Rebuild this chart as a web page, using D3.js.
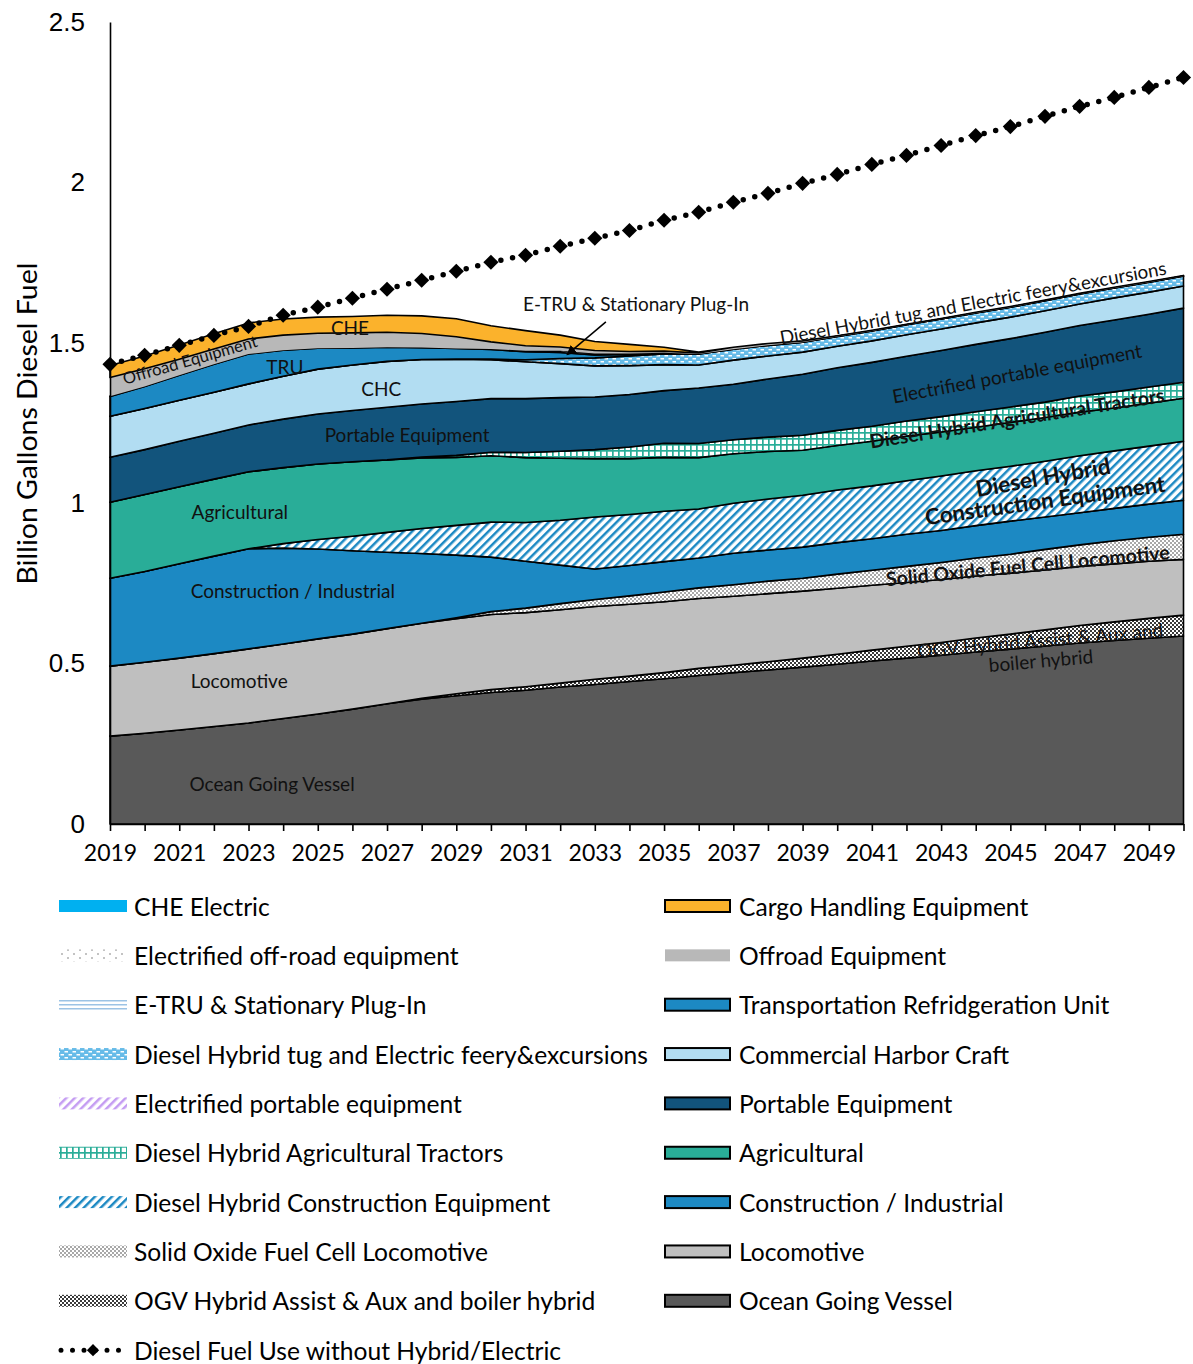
<!DOCTYPE html>
<html><head><meta charset="utf-8">
<script src="https://cdn.jsdelivr.net/npm/d3@7"></script>
<style>
body{margin:0;background:#fff;}
svg{display:block;font-family:Lato, "Noto Sans", sans-serif;}
</style>
</head><body>
<svg id="chart" width="1193" height="1364"></svg>
<script>
// ---------------- DATA ----------------
const years = [2019,2020,2021,2022,2023,2024,2025,2026,2027,2028,2029,2030,2031,2032,2033,2034,2035,2036,2037,2038,2039,2040,2041,2042,2043,2044,2045,2046,2047,2048,2049,2050];
const yTicks = [0, 0.5, 1, 1.5, 2, 2.5];

const ogv = [0.274,0.283,0.293,0.304,0.315,0.329,0.343,0.358,0.375,0.389,0.400,0.410,0.417,0.427,0.435,0.444,0.453,0.463,0.472,0.480,0.489,0.498,0.508,0.517,0.526,0.536,0.545,0.555,0.564,0.572,0.579,0.586];
const ogvHybrid = [0,0,0,0,0,0,0,0,0,0.003,0.006,0.009,0.011,0.012,0.016,0.017,0.019,0.022,0.023,0.026,0.028,0.031,0.034,0.037,0.040,0.044,0.047,0.050,0.055,0.058,0.062,0.065];
const loco = [0.218,0.221,0.224,0.227,0.231,0.232,0.234,0.234,0.234,0.234,0.234,0.234,0.231,0.229,0.227,0.224,0.221,0.218,0.215,0.212,0.209,0.206,0.202,0.199,0.196,0.193,0.190,0.187,0.184,0.181,0.178,0.174];
const sofc = [0,0,0,0,0,0,0,0,0,0,0.003,0.009,0.014,0.019,0.022,0.026,0.030,0.033,0.036,0.039,0.040,0.044,0.047,0.050,0.053,0.056,0.059,0.064,0.067,0.072,0.075,0.078];
const construction = [0.274,0.283,0.294,0.304,0.312,0.299,0.280,0.260,0.238,0.217,0.195,0.170,0.146,0.120,0.095,0.095,0.095,0.093,0.098,0.097,0.097,0.098,0.098,0.100,0.100,0.101,0.103,0.101,0.100,0.101,0.103,0.106];
const dhConstruction = [0,0,0,0,0,0.014,0.030,0.045,0.062,0.078,0.093,0.109,0.121,0.140,0.162,0.159,0.157,0.153,0.156,0.159,0.162,0.164,0.165,0.167,0.170,0.171,0.171,0.174,0.178,0.179,0.181,0.184];
const agricultural = [0.237,0.240,0.240,0.240,0.240,0.237,0.235,0.232,0.226,0.220,0.212,0.207,0.202,0.193,0.182,0.174,0.168,0.160,0.154,0.148,0.140,0.139,0.139,0.139,0.137,0.136,0.137,0.136,0.136,0.134,0.134,0.134];
const agTractors = [0,0,0,0,0,0,0,0,0,0.003,0.006,0.011,0.016,0.022,0.028,0.036,0.044,0.044,0.044,0.045,0.047,0.047,0.047,0.047,0.048,0.048,0.048,0.048,0.050,0.050,0.050,0.050];
const portable = [0.140,0.140,0.142,0.143,0.146,0.151,0.156,0.160,0.164,0.165,0.168,0.167,0.168,0.167,0.164,0.164,0.164,0.173,0.173,0.181,0.190,0.195,0.199,0.202,0.206,0.210,0.213,0.218,0.220,0.224,0.227,0.231];
const elecPortable = [0,0,0,0,0,0,0,0,0,0,0,0,0,0,0,0,0,0,0,0,0,0,0,0,0,0,0,0,0,0,0,0];
const chc = [0.128,0.128,0.128,0.128,0.128,0.134,0.140,0.142,0.143,0.139,0.132,0.121,0.115,0.106,0.097,0.090,0.081,0.072,0.075,0.072,0.069,0.067,0.067,0.067,0.067,0.067,0.067,0.067,0.067,0.069,0.069,0.069];
const tug = [0,0,0,0,0,0,0,0,0,0,0,0.002,0.006,0.016,0.025,0.030,0.033,0.034,0.034,0.033,0.031,0.031,0.031,0.031,0.031,0.031,0.031,0.031,0.031,0.031,0.031,0.031];
const tru = [0.062,0.069,0.078,0.087,0.093,0.081,0.065,0.053,0.044,0.037,0.033,0.030,0.025,0.019,0.009,0.005,0.002,0,0,0,0,0,0,0,0,0,0,0,0,0,0,0];
const eTru = [0,0,0,0,0,0,0,0,0,0,0,0.002,0.003,0.005,0.005,0.003,0.002,0,0,0,0,0,0,0,0,0,0,0,0,0,0,0];
const offroad = [0.059,0.055,0.050,0.048,0.047,0.047,0.047,0.047,0.047,0.044,0.037,0.022,0.016,0.012,0.009,0.006,0.005,0.003,0.006,0.006,0.004,0.002,0.002,0.002,0.002,0.002,0.002,0.002,0.002,0.002,0.002,0.002];
const elecOffroad = [0,0,0,0,0,0,0,0,0,0,0,0,0,0,0,0,0,0,0,0,0,0,0,0,0,0,0,0,0,0,0,0];
const che = [0.037,0.040,0.044,0.047,0.050,0.050,0.050,0.051,0.053,0.055,0.056,0.050,0.047,0.037,0.028,0.022,0.012,0.003,0,0,0,0,0,0,0,0,0,0,0,0,0,0];
const cheElectric = [0,0,0,0,0,0,0,0,0,0,0,0,0,0,0,0,0,0,0,0,0,0,0,0,0,0,0,0,0,0,0,0];
const dieselNoHybrid = [1.433,1.461,1.492,1.523,1.551,1.586,1.611,1.639,1.667,1.695,1.723,1.751,1.773,1.801,1.826,1.850,1.882,1.907,1.938,1.966,1.997,2.025,2.056,2.084,2.115,2.146,2.174,2.206,2.237,2.265,2.296,2.327];

// stack order, bottom to top
const seriesList = [
  {key:'ogv', name:'Ocean Going Vessel', values: ogv},
  {key:'ogvHybrid', name:'OGV Hybrid Assist & Aux and boiler hybrid', values: ogvHybrid},
  {key:'loco', name:'Locomotive', values: loco},
  {key:'sofc', name:'Solid Oxide Fuel Cell Locomotive', values: sofc},
  {key:'construction', name:'Construction / Industrial', values: construction},
  {key:'dhConstruction', name:'Diesel Hybrid Construction Equipment', values: dhConstruction},
  {key:'agricultural', name:'Agricultural', values: agricultural},
  {key:'agTractors', name:'Diesel Hybrid Agricultural Tractors', values: agTractors},
  {key:'portable', name:'Portable Equipment', values: portable},
  {key:'elecPortable', name:'Electrified portable equipment', values: elecPortable},
  {key:'chc', name:'Commercial Harbor Craft', values: chc},
  {key:'tug', name:'Diesel Hybrid tug and Electric feery&excursions', values: tug},
  {key:'tru', name:'Transportation Refridgeration Unit', values: tru},
  {key:'eTru', name:'E-TRU & Stationary Plug-In', values: eTru},
  {key:'offroad', name:'Offroad Equipment', values: offroad},
  {key:'elecOffroad', name:'Electrified off-road equipment', values: elecOffroad},
  {key:'che', name:'Cargo Handling Equipment', values: che},
  {key:'cheElectric', name:'CHE Electric', values: cheElectric}
];
const lineName = 'Diesel Fuel Use without Hybrid/Electric';

// ---------------- STYLES ----------------
const styles = {
  ogv:{fill:'#595959', stroke:true},
  ogvHybrid:{fill:'url(#pOgvHyb)', stroke:true},
  loco:{fill:'#bfbfbf', stroke:true},
  sofc:{fill:'url(#pSofc)', stroke:true},
  construction:{fill:'#1c89c3', stroke:true},
  dhConstruction:{fill:'url(#pDhCon)', stroke:true},
  agricultural:{fill:'#29ad98', stroke:true},
  agTractors:{fill:'url(#pTractor)', stroke:true},
  portable:{fill:'#12547c', stroke:true},
  elecPortable:{fill:'url(#pElecPort)', stroke:false},
  chc:{fill:'#b2ddf2', stroke:true},
  tug:{fill:'url(#pTug)', stroke:true},
  tru:{fill:'#1c89c3', stroke:true},
  eTru:{fill:'url(#pEtru)', stroke:true},
  offroad:{fill:'#b8b8b8', stroke:false},
  elecOffroad:{fill:'url(#pElecOff)', stroke:false},
  che:{fill:'#fbb22c', stroke:true},
  cheElectric:{fill:'#00b0f0', stroke:false}
};

const svg = d3.select('#chart');
const x = d3.scaleLinear().domain([2019, 2050]).range([110, 1183.5]);
const y = d3.scaleLinear().domain([0, 2.5]).range([824, 22]);

// ---------------- PATTERNS ----------------
const defs = svg.append('defs');
function pat(id, w, h, rot){
  const p = defs.append('pattern').attr('id', id).attr('patternUnits','userSpaceOnUse')
    .attr('width', w).attr('height', h);
  if (rot) p.attr('patternTransform', `rotate(${rot})`);
  return p;
}
let p;
p = pat('pOgvHyb', 4, 4); p.append('rect').attr('width',4).attr('height',4).attr('fill','#fff');
p.append('rect').attr('width',2).attr('height',2).attr('fill','#3a3a3a');
p.append('rect').attr('x',2).attr('y',2).attr('width',2).attr('height',2).attr('fill','#3a3a3a');
p = pat('pSofc', 4, 4); p.append('rect').attr('width',4).attr('height',4).attr('fill','#fff');
p.append('rect').attr('width',2).attr('height',2).attr('fill','#a8a8a8');
p.append('rect').attr('x',2).attr('y',2).attr('width',2).attr('height',2).attr('fill','#a8a8a8');
p = pat('pDhCon', 6, 6, 45); p.append('rect').attr('width',6).attr('height',6).attr('fill','#fff');
p.append('rect').attr('width',2.5).attr('height',6).attr('fill','#1c89c3');
p = pat('pElecPort', 6, 6, 45); p.append('rect').attr('width',6).attr('height',6).attr('fill','#fff');
p.append('rect').attr('width',2.5).attr('height',6).attr('fill','#c49cf2');
p = pat('pTractor', 6, 6); p.append('rect').attr('width',6).attr('height',6).attr('fill','#fff');
p.append('rect').attr('width',6).attr('height',1.7).attr('fill','#29ad98');
p.append('rect').attr('width',1.7).attr('height',6).attr('fill','#29ad98');
p = pat('pTug', 8, 6); p.append('rect').attr('width',8).attr('height',6).attr('fill','#66bbe8');
p.append('rect').attr('x',0.5).attr('y',1).attr('width',3.5).attr('height',1.5).attr('fill','#fff');
p.append('rect').attr('x',4.5).attr('y',4).attr('width',3.5).attr('height',1.5).attr('fill','#fff');
p = pat('pEtru', 4, 4); p.append('rect').attr('width',4).attr('height',4).attr('fill','#fff');
p.append('rect').attr('width',4).attr('height',1.5).attr('fill','#9cc3e5');
p = pat('pElecOff', 12, 8); p.append('rect').attr('width',12).attr('height',8).attr('fill','#fff');
p.append('circle').attr('cx',2).attr('cy',2).attr('r',0.8).attr('fill','#777');
p.append('circle').attr('cx',8).attr('cy',6).attr('r',0.8).attr('fill','#777');
const arrow = defs.append('marker').attr('id','arrowHead').attr('viewBox','0 0 10 10')
  .attr('refX',9).attr('refY',5).attr('markerWidth',10).attr('markerHeight',10).attr('orient','auto-start-reverse')
  .attr('markerUnits','userSpaceOnUse');
arrow.append('path').attr('d','M0,0 L10,5 L0,10 Z').attr('fill','#000');

// ---------------- STACK ----------------
const rows = years.map((yr, i) => {
  const r = {year: yr};
  seriesList.forEach(s => r[s.key] = s.values[i]);
  return r;
});
const stack = d3.stack().keys(seriesList.map(s => s.key));
const layers = stack(rows);
const area = d3.area().x(d => x(d.data.year)).y0(d => y(d[0])).y1(d => y(d[1]));

const gAreas = svg.append('g');
layers.forEach(layer => {
  const s = seriesList.find(q => q.key === layer.key);
  if (d3.max(s.values) === 0) return;
  const st = styles[layer.key];
  gAreas.append('path').datum(layer).attr('d', area)
    .attr('fill', st.fill)
    .attr('stroke', st.stroke ? '#000' : 'none')
    .attr('stroke-width', 1.6)
    .attr('stroke-linejoin', 'round');
});

// ---------------- AXES ----------------
const yAxis = d3.axisLeft(y).tickValues(yTicks).tickSize(0).tickSizeOuter(0).tickPadding(25)
  .tickFormat(d3.format(''));
const gy = svg.append('g').attr('transform', `translate(${x(2019)},0)`).call(yAxis);
gy.select('.domain').attr('stroke','#000').attr('stroke-width',1.6);
gy.selectAll('text').attr('font-family','"Liberation Sans", Arial, sans-serif').attr('font-size',26).attr('fill','#000');

const xAxis = d3.axisBottom(x).tickValues(years).tickSize(7).tickSizeOuter(0).tickPadding(14)
  .tickFormat(d => ((d - 2019) % 2 === 0 ? String(d) : ''));
const gx = svg.append('g').attr('transform', `translate(0,${y(0)})`).call(xAxis);
gx.select('.domain').attr('stroke','#000').attr('stroke-width',1.6);
gx.selectAll('line').attr('stroke','#000').attr('stroke-width',1.6);
gx.selectAll('text').attr('font-family','Lato, sans-serif').attr('font-size',23).attr('fill','#000');

svg.append('text').attr('transform', `translate(27,${(y(0)+y(2.5))/2 + 0.5}) rotate(-90)`)
  .attr('text-anchor','middle').attr('dominant-baseline','central')
  .attr('font-size',26).attr('textLength',322).attr('lengthAdjust','spacingAndGlyphs')
  .attr('fill','#000').text('Billion Gallons Diesel Fuel');

// ---------------- LINE ----------------
const line = d3.line().x((d,i) => x(years[i])).y(d => y(d));
svg.append('path').datum(dieselNoHybrid).attr('d', line).attr('fill','none')
  .attr('stroke','#000').attr('stroke-width',5.5).attr('stroke-linecap','round')
  .attr('stroke-dasharray','0 11.9');
const diamond = d3.symbol().type(d3.symbolSquare).size(115);
svg.append('g').selectAll('path').data(dieselNoHybrid).join('path')
  .attr('d', diamond)
  .attr('transform', (d,i) => `translate(${x(years[i])},${y(d)}) rotate(45)`)
  .attr('fill','#000');

// ---------------- ANNOTATIONS ----------------
const annotations = [
  {t:'Ocean Going Vessel', yr:2023.68, v:0.125, r:0, size:19},
  {t:'Locomotive', yr:2022.73, v:0.446, r:0, size:19},
  {t:'Construction / Industrial', yr:2024.28, v:0.729, r:0, size:19},
  {t:'Agricultural', yr:2022.75, v:0.973, r:0, size:19},
  {t:'Portable Equipment', yr:2027.58, v:1.213, r:0, size:19},
  {t:'CHC', yr:2026.83, v:1.359, r:0, size:19},
  {t:'TRU', yr:2024.05, v:1.425, r:0, size:19},
  {t:'CHE', yr:2025.93, v:1.549, r:0, size:19},
  {t:'Offroad Equipment', yr:2021.31, v:1.447, r:-16, size:16.5},
  {t:'E-TRU & Stationary Plug-In', yr:2034.19, v:1.624, r:0, size:19},
  {t:'Diesel Hybrid tug and Electric feery&excursions', yr:2043.92, v:1.627, r:-10.3, size:18.8},
  {t:'Electrified portable equipment', yr:2045.19, v:1.406, r:-10.5, size:19},
  {t:'Diesel Hybrid Agricultural Tractors', yr:2045.19, v:1.266, r:-9, size:19.5, bold:true},
  {t:'Diesel Hybrid', yr:2045.94, v:1.082, r:-10, size:22.5, bold:true},
  {t:'Construction Equipment', yr:2046.0, v:1.010, r:-8, size:22.3, bold:true},
  {t:'Solid Oxide Fuel Cell Locomotive', yr:2045.5, v:0.807, r:-5.5, size:19.5, bold:true},
  {t:'OGV Hybrid Assist & Aux and', yr:2045.86, v:0.574, r:-5, size:19},
  {t:'boiler hybrid', yr:2045.88, v:0.511, r:-5, size:19}
];
svg.append('g').selectAll('text').data(annotations).join('text')
  .attr('transform', d => `translate(${x(d.yr)},${y(d.v)}) rotate(${d.r})`)
  .attr('text-anchor','middle').attr('dominant-baseline','central')
  .attr('font-size', d => d.size).attr('font-weight', d => d.bold ? 700 : 400)
  .attr('fill','#111').text(d => d.t);

// arrow for E-TRU label
const arrowPts = [[2033.32, 1.565], [2032.2, 1.463]];
svg.append('line')
  .attr('x1', x(arrowPts[0][0])).attr('y1', y(arrowPts[0][1]))
  .attr('x2', x(arrowPts[1][0])).attr('y2', y(arrowPts[1][1]))
  .attr('stroke','#000').attr('stroke-width',1.5).attr('marker-end','url(#arrowHead)');

// ---------------- LEGEND ----------------
const leftLegend = ['cheElectric','elecOffroad','eTru','tug','elecPortable','agTractors','dhConstruction','sofc','ogvHybrid'];
const rightLegend = ['che','offroad','tru','chc','portable','agricultural','construction','loco','ogv'];
const legY0 = 906, legStep = 49.35, legFont = 24.6;
const gLeg = svg.append('g');
leftLegend.forEach((k, i) => {
  const s = seriesList.find(q => q.key === k);
  const cy = legY0 + i * legStep;
  gLeg.append('rect').attr('x',59).attr('y',cy-6).attr('width',68).attr('height',12).attr('fill',styles[k].fill);
  gLeg.append('text').attr('x',134).attr('y',cy).attr('dominant-baseline','central')
    .attr('font-size',legFont).attr('fill','#000').text(s.name);
});
{
  const cy = legY0 + leftLegend.length * legStep;
  gLeg.append('line').attr('x1',61).attr('x2',125).attr('y1',cy).attr('y2',cy)
    .attr('stroke','#000').attr('stroke-width',5).attr('stroke-linecap','round').attr('stroke-dasharray','0 11.5');
  gLeg.append('path').attr('d', d3.symbol().type(d3.symbolSquare).size(75))
    .attr('transform', `translate(93,${cy}) rotate(45)`).attr('fill','#000');
  gLeg.append('text').attr('x',134).attr('y',cy).attr('dominant-baseline','central')
    .attr('font-size',legFont).attr('fill','#000').text(lineName);
}
rightLegend.forEach((k, i) => {
  const s = seriesList.find(q => q.key === k);
  const cy = legY0 + i * legStep;
  gLeg.append('rect').attr('x',665).attr('y',cy-6).attr('width',65).attr('height',12)
    .attr('fill',styles[k].fill)
    .attr('stroke', styles[k].stroke ? '#000' : 'none').attr('stroke-width',2);
  gLeg.append('text').attr('x',739).attr('y',cy).attr('dominant-baseline','central')
    .attr('font-size',legFont).attr('fill','#000').text(s.name);
});
</script>
</body></html>
